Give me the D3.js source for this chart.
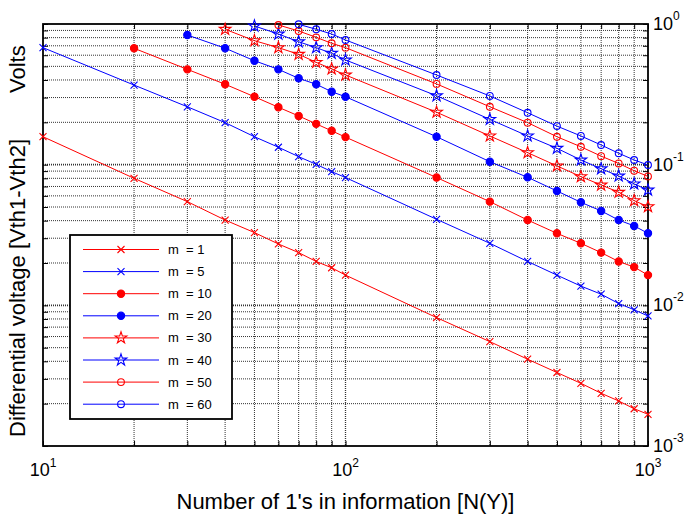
<!DOCTYPE html>
<html>
<head>
<meta charset="utf-8">
<script src="https://d3js.org/d3.v7.min.js"></script>
<style>
  body { margin: 0; background: #fff; }
  svg { font-family: "Liberation Sans", Arial, sans-serif; }
</style>
</head>
<body>
<svg id="svg1" width="684" height="517"></svg>
<script>
// x positions (number of 1's)
var xsAll = [10, 20, 30, 40, 50, 60, 70, 80, 90, 100, 200, 300, 400, 500, 600, 700, 800, 900, 1000];

// series values (volts), each starts at its first x
var m1  = [0.158, 0.080, 0.0546, 0.0404, 0.0329, 0.0273, 0.0237, 0.0205, 0.0185, 0.0164, 0.00818, 0.00552, 0.00414, 0.00333, 0.00279, 0.00237, 0.00209, 0.00184, 0.00168];
var m5  = [0.679, 0.368, 0.258, 0.199, 0.158, 0.133, 0.114, 0.1006, 0.0892, 0.081, 0.0409, 0.0276, 0.0205, 0.0164, 0.0137, 0.012, 0.0103, 0.0093, 0.0084];
var m10 = [0.672, 0.476, 0.373, 0.304, 0.256, 0.222, 0.195, 0.174, 0.157, 0.081, 0.0546, 0.0404, 0.0325, 0.0276, 0.0237, 0.0205, 0.0187, 0.0164];
var m20 = [0.835, 0.673, 0.548, 0.476, 0.411, 0.373, 0.330, 0.304, 0.158, 0.105, 0.0813, 0.065, 0.054, 0.0469, 0.0404, 0.0367, 0.0325];
var m30 = [0.917, 0.761, 0.679, 0.609, 0.534, 0.479, 0.434, 0.236, 0.160, 0.1217, 0.098, 0.0822, 0.0717, 0.0637, 0.0555, 0.0503];
var m40 = [0.968, 0.849, 0.748, 0.679, 0.619, 0.555, 0.309, 0.210, 0.160, 0.1307, 0.108, 0.0935, 0.0831, 0.073, 0.066];
var m50 = [0.984, 0.892, 0.804, 0.729, 0.679, 0.375, 0.258, 0.199, 0.158, 0.134, 0.115, 0.102, 0.0906, 0.0825];
var m60 = [0.995, 0.917, 0.849, 0.770, 0.434, 0.308, 0.234, 0.188, 0.160, 0.138, 0.1205, 0.108, 0.0995];

var seriesNames = ["m = 1", "m = 5", "m = 10", "m = 20", "m = 30", "m = 40", "m = 50", "m = 60"];
var seriesValues = [m1, m5, m10, m20, m30, m40, m50, m60];
var seriesColors = ["#ff0000", "#0000ff", "#ff0000", "#0000ff", "#ff0000", "#0000ff", "#ff0000", "#0000ff"];
var seriesMarkers = ["x", "x", "dot", "dot", "star", "star", "ring", "ring"];

var xTickLabels = [{v: 10, e: "1"}, {v: 100, e: "2"}, {v: 1000, e: "3"}];
var yTickLabels = [{v: 1, e: "0"}, {v: 0.1, e: "-1"}, {v: 0.01, e: "-2"}, {v: 0.001, e: "-3"}];

var svg = d3.select("#svg1"),
    margin = {top: 24, right: 36, bottom: 71, left: 43},
    width = +svg.attr("width") - margin.left - margin.right,
    height = +svg.attr("height") - margin.top - margin.bottom,
    g = svg.append("g").attr("transform", "translate(" + margin.left + "," + margin.top + ")");

var x = d3.scaleLog().domain([10, 1000]).range([0, width]);
var y = d3.scaleLog().domain([0.001, 1]).range([height, 0]);

// every 1..9 position of each decade
var xGrid = [], yGrid = [];
[10, 100].forEach(function(d) { for (var k = 1; k < 10; k++) xGrid.push(d * k); });
xGrid.push(1000);
[0.001, 0.01, 0.1].forEach(function(d) { for (var k = 1; k < 10; k++) yGrid.push(d * k); });
yGrid.push(1);

// grid
g.append("g").selectAll("line").data(xGrid.slice(1, -1)).enter().append("line")
    .attr("x1", function(d) { return x(d); }).attr("x2", function(d) { return x(d); })
    .attr("y1", 0).attr("y2", height)
    .attr("stroke", "#333").attr("stroke-width", function(d) { return d == 100 ? 1.3 : 1; })
    .attr("stroke-dasharray", "1,1");
g.append("g").selectAll("line").data(yGrid.slice(1, -1)).enter().append("line")
    .attr("y1", function(d) { return y(d); }).attr("y2", function(d) { return y(d); })
    .attr("x1", 0).attr("x2", width)
    .attr("stroke", "#333").attr("stroke-width", function(d) { return (d == 0.1 || d == 0.01) ? 1.6 : 1; })
    .attr("stroke-dasharray", "1,1");

// inward ticks on all four sides
function noLabel() { return ""; }
g.append("g").attr("transform", "translate(0," + height + ")")
    .call(d3.axisBottom(x).tickValues(xGrid).tickSize(-5).tickSizeOuter(0).tickFormat(noLabel));
g.append("g")
    .call(d3.axisTop(x).tickValues(xGrid).tickSize(-5).tickSizeOuter(0).tickFormat(noLabel));
g.append("g")
    .call(d3.axisLeft(y).tickValues(yGrid).tickSize(-5).tickSizeOuter(0).tickFormat(noLabel));
g.append("g").attr("transform", "translate(" + width + ",0)")
    .call(d3.axisRight(y).tickValues(yGrid).tickSize(-5).tickSizeOuter(0).tickFormat(noLabel));
g.selectAll(".domain").remove();
g.selectAll(".tick line").attr("stroke", "#000");

g.append("rect").attr("width", width).attr("height", height)
    .attr("fill", "none").attr("stroke", "#000").attr("stroke-width", 1.8);

// tick labels
var xl = g.append("g").selectAll("text").data(xTickLabels).enter().append("text")
    .attr("x", function(d) { return x(d.v); }).attr("y", height + 30)
    .attr("text-anchor", "middle").attr("font-size", 18);
xl.append("tspan").text("10");
xl.append("tspan").attr("dy", -9).attr("font-size", 12).text(function(d) { return d.e; });

var yl = g.append("g").selectAll("text").data(yTickLabels).enter().append("text")
    .attr("x", width + 5).attr("y", function(d) { return y(d.v) + 6; })
    .attr("font-size", 18);
yl.append("tspan").text("10");
yl.append("tspan").attr("dy", -10).attr("font-size", 12).text(function(d) { return d.e; });

// markers
function markerPath(type) {
    var p = d3.path();
    if (type == "x") {
        var s = 3.5;
        p.moveTo(-s, -s); p.lineTo(s, s); p.moveTo(-s, s); p.lineTo(s, -s);
        return p.toString();
    }
    if (type == "dot") return d3.symbol(d3.symbolCircle, 42)();
    if (type == "ring") return d3.symbol(d3.symbolCircle, 36)();
    return d3.symbol(d3.symbolStar, 42)();
}

var line = d3.line().x(function(d) { return x(d.x); }).y(function(d) { return y(d.y); });

var series = seriesValues.map(function(vals, i) {
    var xs = xsAll.slice(xsAll.length - vals.length);
    return {
        name: seriesNames[i], color: seriesColors[i], marker: seriesMarkers[i],
        points: vals.map(function(v, j) { return {x: xs[j], y: v}; })
    };
});

var sg = g.selectAll(".series").data(series).enter().append("g").attr("class", "series");
sg.append("path")
    .attr("d", function(d) { return line(d.points); })
    .attr("fill", "none").attr("stroke", function(d) { return d.color; }).attr("stroke-width", 1);
sg.each(function(s) {
    d3.select(this).selectAll(".mk").data(s.points).enter().append("path")
        .attr("class", "mk")
        .attr("transform", function(d) { return "translate(" + x(d.x) + "," + y(d.y) + ")"; })
        .attr("d", markerPath(s.marker))
        .attr("fill", s.marker == "dot" ? s.color : "none")
        .attr("stroke", s.color).attr("stroke-width", 1.1);
});

// legend
var lg = svg.append("g").attr("transform", "translate(70,235)");
lg.append("rect").attr("width", 162).attr("height", 184)
    .attr("fill", "#fff").attr("stroke", "#000").attr("stroke-width", 1.8);
var li = lg.selectAll(".li").data(series).enter().append("g")
    .attr("transform", function(d, i) { return "translate(0," + (14.5 + i * 22.1) + ")"; });
li.append("line").attr("x1", 13).attr("x2", 89)
    .attr("stroke", function(d) { return d.color; }).attr("stroke-width", 1);
li.append("path").attr("transform", "translate(51,0)")
    .attr("d", function(d) { return markerPath(d.marker); })
    .attr("fill", function(d) { return d.marker == "dot" ? d.color : "none"; })
    .attr("stroke", function(d) { return d.color; }).attr("stroke-width", 1.1);
li.append("text").attr("x", 98).attr("y", 4.5).attr("font-size", 13)
    .style("white-space", "pre")
    .text(function(d) { return d.name.replace(" = ", "  = "); });

// axis titles
svg.append("text")
    .attr("x", margin.left + width / 2).attr("y", 509)
    .attr("text-anchor", "middle").attr("font-size", 22)
    .text("Number of 1's in information [N(Y)]");
svg.append("text")
    .attr("transform", "translate(25,437) rotate(-90)")
    .attr("font-size", 22)
    .text("Differential voltage [Vth1-Vth2]");
svg.append("text")
    .attr("transform", "translate(25,93) rotate(-90)")
    .attr("font-size", 22)
    .text("Volts");
</script>
</body>
</html>
